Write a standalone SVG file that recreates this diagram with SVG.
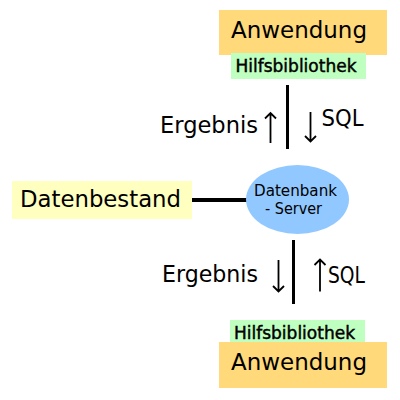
<svg xmlns="http://www.w3.org/2000/svg" width="400" height="400" viewBox="0 0 400 400">
<style>
text{font-family:"DejaVu Sans","Liberation Sans",sans-serif;fill:#000}
.big{font-size:22.8px}
.lib{font-size:17px;stroke:#000;stroke-width:0.45}
.app{fill:#ffd97a}
.hb{fill:#bfffbf}
.conn{stroke:#000;fill:none}
.arr{stroke:#000;stroke-width:1.8;fill:none}
</style>
<rect width="400" height="400" fill="#fff"/>
<g id="connectors">
<line class="conn" x1="192" y1="200" x2="247" y2="200" stroke-width="4"/>
<line class="conn" x1="287.5" y1="85" x2="287.5" y2="149" stroke-width="3"/>
<line class="conn" x1="293.5" y1="240" x2="293.5" y2="304" stroke-width="3"/>
<path class="arr" d="M270.5 113 V143 M265 118.5 L270.5 113 L276 118.5"/>
<path class="arr" d="M310.5 112 V141.5 M305 136 L310.5 141.5 L316 136"/>
<path class="arr" d="M278.5 260 V291.5 M273 286 L278.5 291.5 L284 286"/>
<path class="arr" d="M320 259.5 V291.5 M314.5 265 L320 259.5 L325.5 265"/>
<text class="big" x="160" y="133" textLength="98" lengthAdjust="spacingAndGlyphs">Ergebnis</text>
<text class="big" x="321.5" y="125.5" textLength="42" lengthAdjust="spacingAndGlyphs">SQL</text>
<text class="big" x="162" y="282" textLength="96" lengthAdjust="spacingAndGlyphs">Ergebnis</text>
<text class="big" x="328" y="282.5" textLength="37" lengthAdjust="spacingAndGlyphs">SQL</text>
</g>
<g id="app-top">
<rect class="app" x="219" y="10" width="168" height="45"/>
<text class="big" x="231" y="37.5" textLength="136" lengthAdjust="spacingAndGlyphs">Anwendung</text>
</g>
<g id="lib-top">
<rect class="hb" x="231" y="53" width="135" height="26"/>
<text class="lib" x="235.5" y="71.5" textLength="121" lengthAdjust="spacingAndGlyphs">Hilfsbibliothek</text>
</g>
<g id="datenbestand">
<rect x="12" y="181" width="180" height="38" fill="#ffffc0"/>
<text class="big" x="20" y="207" textLength="161" lengthAdjust="spacingAndGlyphs">Datenbestand</text>
</g>
<g id="server">
<ellipse cx="297.5" cy="199.5" rx="51.5" ry="34.5" fill="#91c8ff"/>
<text x="295.5" y="196" font-size="15" text-anchor="middle" textLength="83" lengthAdjust="spacingAndGlyphs">Datenbank</text>
<text x="293.5" y="213.5" font-size="15" text-anchor="middle" textLength="57" lengthAdjust="spacingAndGlyphs">- Server</text>
</g>
<g id="lib-bottom">
<rect class="hb" x="230" y="320" width="135" height="26"/>
<text class="lib" x="234" y="338.5" textLength="121" lengthAdjust="spacingAndGlyphs">Hilfsbibliothek</text>
</g>
<g id="app-bottom">
<rect class="app" x="219" y="342" width="168" height="46"/>
<text class="big" x="231" y="370" textLength="136" lengthAdjust="spacingAndGlyphs">Anwendung</text>
</g>
</svg>
